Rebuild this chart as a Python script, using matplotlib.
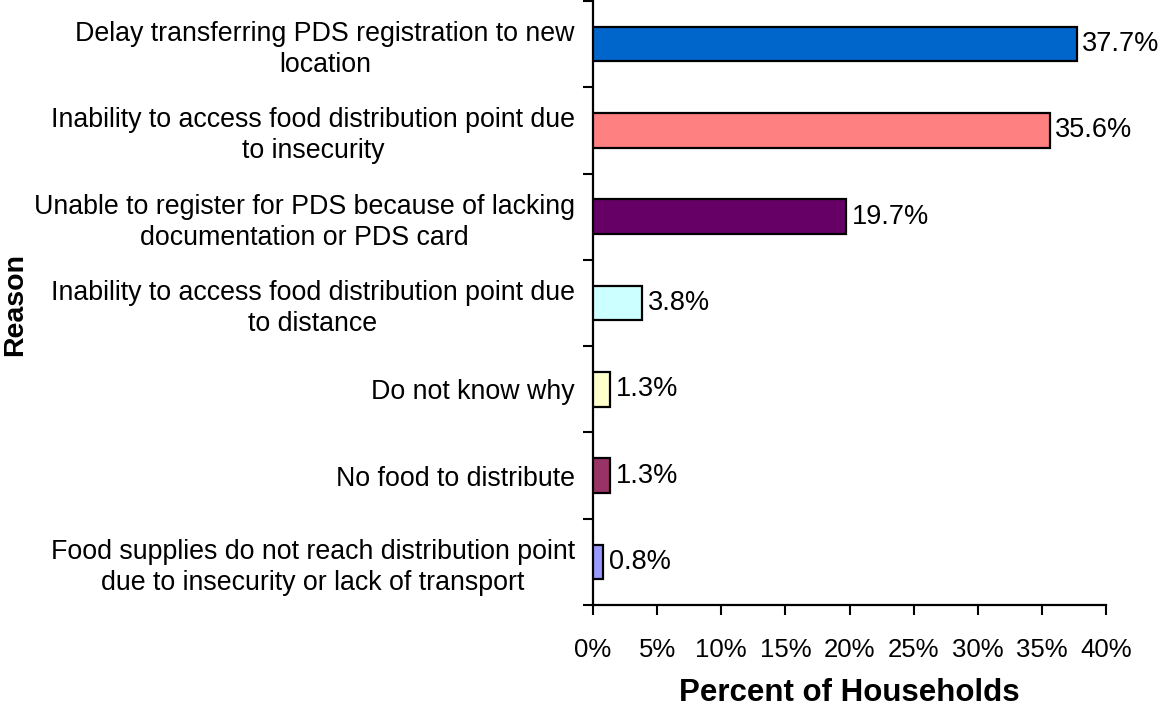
import matplotlib.pyplot as plt
import numpy as np

plt.rcParams['font.family'] = ['Liberation Sans', 'DejaVu Sans']

# Reasons, listed top to bottom as in the chart
reasons = [
    "Delay transferring PDS registration to new\nlocation",
    "Inability to access food distribution point due\nto insecurity",
    "Unable to register for PDS because of lacking\ndocumentation or PDS card",
    "Inability to access food distribution point due\nto distance",
    "Do not know why",
    "No food to distribute",
    "Food supplies do not reach distribution point\ndue to insecurity or lack of transport",
]
percents = [37.7, 35.6, 19.7, 3.8, 1.3, 1.3, 0.8]
bar_colors = ['#0066CC', '#FF8080', '#660066', '#CCFFFF', '#FFFFCC', '#993366', '#9999FF']
x_ticks = [0, 5, 10, 15, 20, 25, 30, 35, 40]


def make_chart():
    fig = plt.figure(figsize=(11.58, 7.08), dpi=100)
    ax = fig.add_axes([593 / 1158, 1 - 605 / 708, (1106 - 593) / 1158, 604 / 708])

    y = np.arange(len(reasons))
    ax.barh(y, percents, height=0.4, color=bar_colors, edgecolor='black', linewidth=1.6, zorder=3)

    # value labels just right of each bar
    for yi, v in zip(y, percents):
        ax.text(v + 0.45, yi, f'{v:.1f}%', va='center', ha='left', fontsize=19.5)

    ax.set_ylim(len(reasons) - 0.5, -0.5)
    ax.set_xlim(0, 40)

    # labels at category centres, tick marks at category boundaries
    ax.set_yticks(y)
    ax.set_yticklabels(reasons, fontsize=19.3, multialignment='center', linespacing=1.25)
    ax.tick_params(axis='y', which='major', length=0, pad=13)
    ax.set_yticks(np.arange(-0.5, len(reasons), 1.0), minor=True)
    ax.tick_params(axis='y', which='minor', length=7, width=1.5, direction='out')

    ax.set_xticks(x_ticks)
    ax.set_xticklabels([f'{t}%' for t in x_ticks], fontsize=18.5)
    ax.tick_params(axis='x', length=7, width=1.5, direction='out', pad=17)

    for side in ['top', 'right']:
        ax.spines[side].set_visible(False)
    for side in ['left', 'bottom']:
        ax.spines[side].set_linewidth(1.6)

    ax.set_xlabel('Percent of Households', fontsize=22.5, fontweight='bold', labelpad=11)
    ax.set_ylabel('Reason', fontsize=20.5, fontweight='bold', va='center')
    ax.yaxis.set_label_coords((15 - 593) / 513, 0.497)

    fig.savefig('out.png', dpi=100)
    plt.close(fig)


if __name__ == '__main__':
    make_chart()
